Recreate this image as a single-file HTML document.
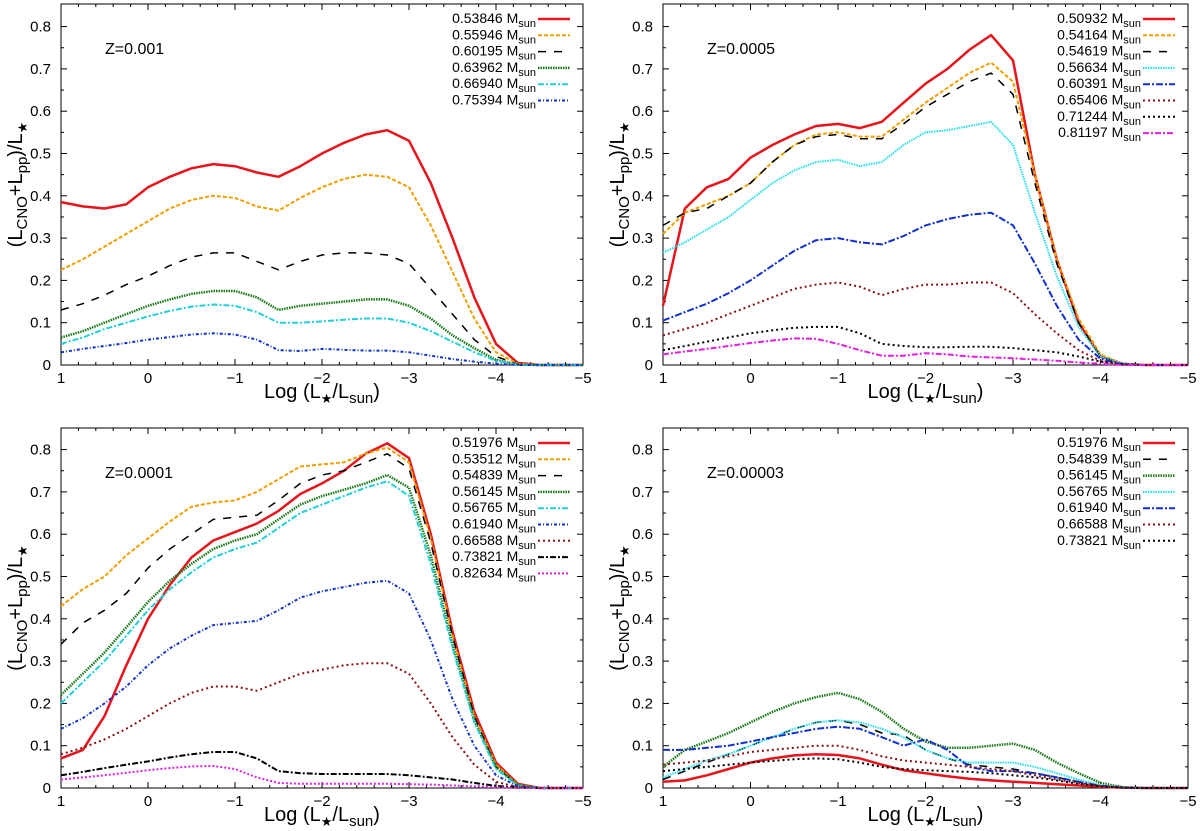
<!DOCTYPE html>
<html><head><meta charset="utf-8"><style>
body{margin:0;background:#fff;}
svg{display:block;font-family:"Liberation Sans",sans-serif;}
</style></head><body>
<svg id="c" width="1200" height="831" xmlns="http://www.w3.org/2000/svg"></svg>
<script>
const xGrid=[1,0.75,0.5,0.25,0,-0.25,-0.5,-0.75,-1,-1.25,-1.5,-1.75,-2,-2.25,-2.5,-2.75,-3,-3.25,-3.5,-3.75,-4,-4.25,-4.5,-4.75,-5];
const xTicks=[1,0,-1,-2,-3,-4,-5];
const xTickLabels=["1","0","\u22121","\u22122","\u22123","\u22124","\u22125"];
const yTicks=[0,0.1,0.2,0.3,0.4,0.5,0.6,0.7,0.8];
const yTickLabels=["0","0.1","0.2","0.3","0.4","0.5","0.6","0.7","0.8"];
const panelTitles=["Z=0.001","Z=0.0005","Z=0.0001","Z=0.00003"];

const p1Masses=["0.53846","0.55946","0.60195","0.63962","0.66940","0.75394"];
const p1Red=[0.385,0.375,0.37,0.38,0.42,0.445,0.465,0.475,0.47,0.455,0.445,0.47,0.5,0.525,0.545,0.555,0.53,0.43,0.3,0.16,0.05,0.005,0,0,0];
const p1Orange=[0.225,0.25,0.28,0.31,0.34,0.37,0.39,0.4,0.395,0.375,0.365,0.395,0.42,0.44,0.45,0.445,0.42,0.33,0.22,0.11,0.03,0.003,0,0,0];
const p1Black=[0.13,0.145,0.165,0.19,0.21,0.235,0.255,0.265,0.265,0.245,0.225,0.245,0.26,0.265,0.265,0.26,0.24,0.18,0.12,0.06,0.02,0.002,0,0,0];
const p1Green=[0.065,0.08,0.1,0.12,0.14,0.155,0.168,0.175,0.175,0.16,0.13,0.14,0.145,0.15,0.155,0.155,0.14,0.11,0.07,0.04,0.012,0.001,0,0,0];
const p1Cyan=[0.05,0.065,0.085,0.1,0.115,0.128,0.138,0.143,0.14,0.125,0.1,0.1,0.103,0.107,0.11,0.11,0.1,0.08,0.055,0.03,0.01,0.001,0,0,0];
const p1Blue=[0.03,0.038,0.045,0.052,0.06,0.066,0.072,0.075,0.072,0.06,0.035,0.033,0.038,0.036,0.034,0.034,0.03,0.022,0.014,0.008,0.003,0,0,0,0];

const p2Masses=["0.50932","0.54164","0.54619","0.56634","0.60391","0.65406","0.71244","0.81197"];
const p2Red=[0.14,0.37,0.42,0.44,0.49,0.52,0.545,0.565,0.57,0.56,0.575,0.62,0.665,0.70,0.745,0.78,0.72,0.45,0.25,0.1,0.02,0.003,0,0,0];
const p2Orange=[0.31,0.36,0.38,0.4,0.43,0.48,0.52,0.545,0.55,0.54,0.54,0.58,0.62,0.655,0.69,0.715,0.67,0.45,0.25,0.11,0.025,0.003,0,0,0];
const p2Black=[0.33,0.36,0.37,0.4,0.43,0.48,0.52,0.54,0.545,0.535,0.535,0.57,0.61,0.64,0.67,0.69,0.64,0.43,0.24,0.1,0.02,0.003,0,0,0];
const p2Cyan=[0.265,0.29,0.32,0.35,0.39,0.43,0.46,0.48,0.485,0.47,0.48,0.52,0.55,0.555,0.565,0.575,0.52,0.36,0.21,0.09,0.02,0.003,0,0,0];
const p2Blue=[0.105,0.125,0.145,0.17,0.2,0.235,0.27,0.295,0.3,0.29,0.285,0.305,0.33,0.345,0.355,0.36,0.33,0.24,0.14,0.06,0.015,0.002,0,0,0];
const p2DarkRed=[0.07,0.085,0.1,0.12,0.14,0.16,0.18,0.19,0.195,0.185,0.165,0.18,0.19,0.19,0.195,0.195,0.17,0.12,0.075,0.035,0.01,0.001,0,0,0];
const p2Dotted=[0.035,0.045,0.055,0.065,0.075,0.082,0.088,0.09,0.09,0.075,0.05,0.045,0.042,0.042,0.043,0.043,0.04,0.035,0.03,0.02,0.008,0.001,0,0,0];
const p2Magenta=[0.025,0.032,0.038,0.045,0.052,0.058,0.063,0.062,0.05,0.035,0.022,0.022,0.028,0.025,0.02,0.018,0.016,0.013,0.01,0.006,0.003,0,0,0,0];

const p3Masses=["0.51976","0.53512","0.54839","0.56145","0.56765","0.61940","0.66588","0.73821","0.82634"];
const p3Red=[0.07,0.09,0.17,0.29,0.4,0.48,0.545,0.585,0.605,0.625,0.655,0.695,0.72,0.75,0.79,0.815,0.78,0.6,0.37,0.18,0.06,0.01,0,0,0];
const p3Orange=[0.43,0.47,0.5,0.55,0.59,0.63,0.665,0.675,0.68,0.7,0.73,0.76,0.765,0.77,0.79,0.805,0.77,0.59,0.36,0.17,0.055,0.008,0,0,0];
const p3Black=[0.34,0.39,0.42,0.46,0.52,0.565,0.6,0.635,0.64,0.645,0.68,0.72,0.74,0.75,0.77,0.79,0.755,0.58,0.36,0.17,0.05,0.007,0,0,0];
const p3Green=[0.22,0.27,0.32,0.38,0.44,0.49,0.53,0.565,0.585,0.6,0.635,0.67,0.69,0.705,0.72,0.74,0.71,0.55,0.34,0.16,0.05,0.007,0,0,0];
const p3Cyan=[0.2,0.25,0.3,0.36,0.42,0.47,0.51,0.545,0.565,0.58,0.615,0.65,0.67,0.69,0.71,0.725,0.69,0.53,0.33,0.155,0.045,0.006,0,0,0];
const p3Blue=[0.14,0.165,0.2,0.24,0.29,0.33,0.36,0.385,0.39,0.395,0.42,0.45,0.465,0.475,0.485,0.49,0.46,0.35,0.21,0.1,0.03,0.004,0,0,0];
const p3DarkRed=[0.08,0.095,0.115,0.14,0.17,0.2,0.225,0.24,0.24,0.23,0.25,0.27,0.28,0.29,0.295,0.295,0.27,0.2,0.12,0.055,0.015,0.002,0,0,0];
const p3DashDot=[0.03,0.038,0.047,0.055,0.063,0.072,0.08,0.085,0.085,0.07,0.04,0.035,0.033,0.033,0.033,0.033,0.03,0.025,0.02,0.012,0.005,0.001,0,0,0];
const p3Magenta=[0.02,0.025,0.03,0.036,0.042,0.047,0.051,0.052,0.045,0.025,0.012,0.01,0.01,0.01,0.01,0.01,0.009,0.008,0.006,0.004,0.002,0,0,0,0];

const p4Masses=["0.51976","0.54839","0.56145","0.56765","0.61940","0.66588","0.73821"];
const p4Red=[0.015,0.018,0.03,0.045,0.06,0.07,0.077,0.08,0.078,0.07,0.055,0.042,0.035,0.028,0.022,0.018,0.015,0.012,0.009,0.006,0.003,0.001,0,0,0];
const p4Black=[0.02,0.04,0.06,0.08,0.1,0.12,0.14,0.155,0.16,0.15,0.13,0.125,0.09,0.07,0.055,0.05,0.045,0.035,0.025,0.015,0.005,0.001,0,0,0];
const p4Green=[0.05,0.09,0.11,0.13,0.155,0.18,0.2,0.215,0.225,0.21,0.18,0.14,0.11,0.095,0.095,0.1,0.105,0.09,0.06,0.035,0.012,0.002,0,0,0];
const p4Cyan=[0.025,0.045,0.065,0.08,0.1,0.12,0.14,0.155,0.16,0.155,0.14,0.12,0.09,0.07,0.06,0.06,0.06,0.05,0.035,0.02,0.007,0.001,0,0,0];
const p4Blue=[0.09,0.09,0.095,0.1,0.11,0.12,0.13,0.14,0.145,0.14,0.12,0.1,0.115,0.09,0.05,0.04,0.04,0.035,0.025,0.015,0.005,0.001,0,0,0];
const p4DarkRed=[0.055,0.06,0.065,0.075,0.085,0.09,0.095,0.1,0.1,0.09,0.075,0.065,0.06,0.055,0.05,0.045,0.04,0.03,0.02,0.012,0.005,0.001,0,0,0];
const p4Dotted=[0.04,0.045,0.05,0.055,0.06,0.064,0.068,0.07,0.068,0.06,0.05,0.045,0.042,0.04,0.038,0.035,0.03,0.025,0.018,0.01,0.004,0.001,0,0,0];

const ST={
 red:{c:"#e8141c",w:2.5,d:""},
 orange:{c:"#f0a000",w:2,d:"4,2"},
 black:{c:"#000",w:1.5,d:"8,8"},
 green:{c:"#1a7a1a",w:2.5,d:"1.5,1"},
 cyan:{c:"#20d0d8",w:2,d:"6,2,2,2"},
 cyan2:{c:"#20e0e8",w:2,d:"1.5,1"},
 blue:{c:"#1030d0",w:2,d:"3,2,1,2"},
 blue2:{c:"#1030d0",w:2,d:"7,2,2,2"},
 darkred:{c:"#8b1010",w:2,d:"2,3"},
 dotted:{c:"#000",w:2,d:"2,3"},
 dashdot:{c:"#000",w:2,d:"6,2,2,2"},
 magenta:{c:"#e020e0",w:2,d:"6,2,2,2"},
 magdot:{c:"#e020e0",w:2,d:"2,2"}
};
const panels=[
 {L:61,T:4,R:583,B:365,title:0,masses:p1Masses,series:[[p1Red,"red"],[p1Orange,"orange"],[p1Black,"black"],[p1Green,"green"],[p1Cyan,"cyan"],[p1Blue,"blue"]]},
 {L:663,T:4,R:1188,B:365,title:1,masses:p2Masses,series:[[p2Red,"red"],[p2Orange,"orange"],[p2Black,"black"],[p2Cyan,"cyan2"],[p2Blue,"blue2"],[p2DarkRed,"darkred"],[p2Dotted,"dotted"],[p2Magenta,"magenta"]]},
 {L:61,T:428,R:583,B:788,title:2,masses:p3Masses,series:[[p3Red,"red"],[p3Orange,"orange"],[p3Black,"black"],[p3Green,"green"],[p3Cyan,"cyan"],[p3Blue,"blue"],[p3DarkRed,"darkred"],[p3DashDot,"dashdot"],[p3Magenta,"magdot"]]},
 {L:663,T:428,R:1188,B:788,title:3,masses:p4Masses,series:[[p4Red,"red"],[p4Black,"black"],[p4Green,"green"],[p4Cyan,"cyan2"],[p4Blue,"blue2"],[p4DarkRed,"darkred"],[p4Dotted,"dotted"]]}
];
const NS="http://www.w3.org/2000/svg";
const svg=document.getElementById("c");
function mk(t,a,p){const e=document.createElementNS(NS,t);for(const k in a)e.setAttribute(k,a[k]);(p||svg).appendChild(e);return e;}
panels.forEach((P,pi)=>{
 const g=mk("g",{});
 
 
 const sx=v=>P.L+(1-v)/6*(P.R-P.L);
 const syy=v=>P.B-v*423;
 const fr=mk("rect",{x:P.L,y:P.T,width:P.R-P.L,height:P.B-P.T,fill:"none",stroke:"#000","stroke-width":1},g);
 
 
 for(let v=0;v<=0.85;v+=0.05){
  const y=syy(v);if(y<P.T)break;const len=Math.round(v*100)%10===0?6:3;
  mk("line",{x1:P.L,x2:P.L+len,y1:y,y2:y,stroke:"#000"},g);
  mk("line",{x1:P.R,x2:P.R-len,y1:y,y2:y,stroke:"#000"},g);
 }
 yTicks.forEach((v,i)=>{const t=mk("text",{x:P.L-10,y:syy(v)+5,"text-anchor":"end","font-size":15},g);t.textContent=yTickLabels[i];
  
  });
 for(let k=0;k<=30;k++){const v=1-k*0.2;const x=sx(v);const len=k%5===0?6:3;
  mk("line",{x1:x,x2:x,y1:P.B,y2:P.B-len,stroke:"#000"},g);
  mk("line",{x1:x,x2:x,y1:P.T,y2:P.T+len,stroke:"#000"},g);}
 xTicks.forEach((v,i)=>{const t=mk("text",{x:sx(v),y:P.B+18,"text-anchor":"middle","font-size":15},g);t.textContent=xTickLabels[i];
  
  });
 const xt=mk("text",{x:(P.L+P.R)/2,y:P.B+33,"text-anchor":"middle","font-size":20},g);
 xt.innerHTML='Log (L<tspan font-size="13" dy="5">\u2605</tspan><tspan dy="-5">/L</tspan><tspan font-size="15" dy="5">sun</tspan><tspan dy="-5">)</tspan>';
 
 
 const cy=(P.T+P.B)/2, cx=P.L-39;
 const yt=mk("text",{x:cx,y:cy,"text-anchor":"middle","font-size":20,transform:`rotate(-90 ${cx} ${cy})`},g);
 yt.innerHTML='(L<tspan font-size="15" dy="5">CNO</tspan><tspan dy="-5">+L</tspan><tspan font-size="15" dy="5">pp</tspan><tspan dy="-5">)/L</tspan><tspan font-size="13" dy="5">\u2605</tspan>';
 
 
 const tt=mk("text",{x:P.L+44,y:P.T+50,"font-size":16},g);tt.textContent=panelTitles[P.title];
 
 
 P.series.forEach((s,si)=>{
  const st=ST[s[1]];
  const d=s[0].map((v,i)=>(i?"L":"M")+sx(xGrid[i]).toFixed(1)+","+syy(v).toFixed(1)).join(" ");
  const pa=mk("path",{d:d,fill:"none",stroke:st.c,"stroke-width":st.w,"stroke-dasharray":st.d,"stroke-linejoin":"round"},g);
  
  
  const ly=P.T+15+si*16.3;
  const lt=mk("text",{x:P.R-47,y:ly+4,"text-anchor":"end","font-size":14},g);
  lt.innerHTML=P.masses[si]+' M<tspan font-size="11" dy="4">sun</tspan>';
  
  
  const ll=mk("line",{x1:P.R-45,x2:P.R-13,y1:ly,y2:ly,stroke:st.c,"stroke-width":st.w,"stroke-dasharray":st.d},g);
  
  
 });
});
</script>
</body></html>
